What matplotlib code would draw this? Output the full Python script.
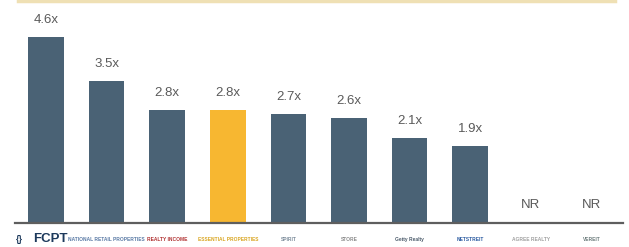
import matplotlib.pyplot as plt
from matplotlib.lines import Line2D

# values (None = not rated)
companies = ["FCPT", "NATIONAL RETAIL PROPERTIES", "REALTY INCOME", "ESSENTIAL PROPERTIES",
             "SPIRIT", "STORE", "Getty Realty", "NETSTREIT", "AGREE REALTY", "VEREIT"]
multiples = [4.6, 3.5, 2.8, 2.8, 2.7, 2.6, 2.1, 1.9, None, None]
highlight = 3

bar_color = "#4a6275"
hi_color = "#f7b731"
text_color = "#5a5a5a"

plt.rcParams['font.family'] = ['Liberation Sans', 'DejaVu Sans']

step = 60.6
x0 = 46
fig = plt.figure(figsize=(6.29, 2.47), dpi=100)
ax = fig.add_axes([0, 24 / 247, 1, 223 / 247])
ax.set_xlim(-x0 / step, (629 - x0) / step)
ax.set_ylim(0, 223 / 186 * 4.6)
ax.axis("off")

for i, v in enumerate(multiples):
    if v is None:
        ax.annotate("NR", (i, 0), xytext=(0, 8.5), textcoords="offset points",
                    ha="center", va="bottom", fontsize=9.5, color=text_color)
        continue
    c = hi_color if i == highlight else bar_color
    ax.bar(i, v, width=0.59, color=c)
    ax.annotate(f"{v:.1f}x", (i, v), xytext=(0, 8), textcoords="offset points",
                ha="center", va="bottom", fontsize=9.5, color=text_color)

# baseline
ax.plot([(15 - x0) / step, (623 - x0) / step], [0, 0], color="#5e5e5e", lw=1.6, clip_on=False)

# pale rule across the top
fig.add_artist(Line2D([18 / 629, 615 / 629], [1 - 1.5 / 247] * 2,
                      color="#efe0b4", lw=2.5, transform=fig.transFigure))

# company "logos" as text under the bars
logo_colors = ["#1d3a5c", "#5a7aa5", "#b03030", "#d9a520", "#7a8a99",
               "#8a8a8a", "#4a5a6a", "#2a5aa0", "#a0a0a0", "#6a7a7a"]
ly = 1 - 239 / 247
for i, name in enumerate(companies):
    x = (x0 + step * i) / 629
    if i == 0:
        fig.text(x + 4 / 629, ly, name, ha="center", va="center",
                 fontsize=9.5, fontweight="bold", color=logo_colors[i])
        fig.text(19 / 629, ly, "{}", ha="center", va="center",
                 fontsize=6.5, fontweight="bold", color=logo_colors[i])
    else:
        fig.text(x, ly, name, ha="center", va="center",
                 fontsize=3.5, fontweight="bold", color=logo_colors[i])

fig.savefig("out.png", dpi=100)
